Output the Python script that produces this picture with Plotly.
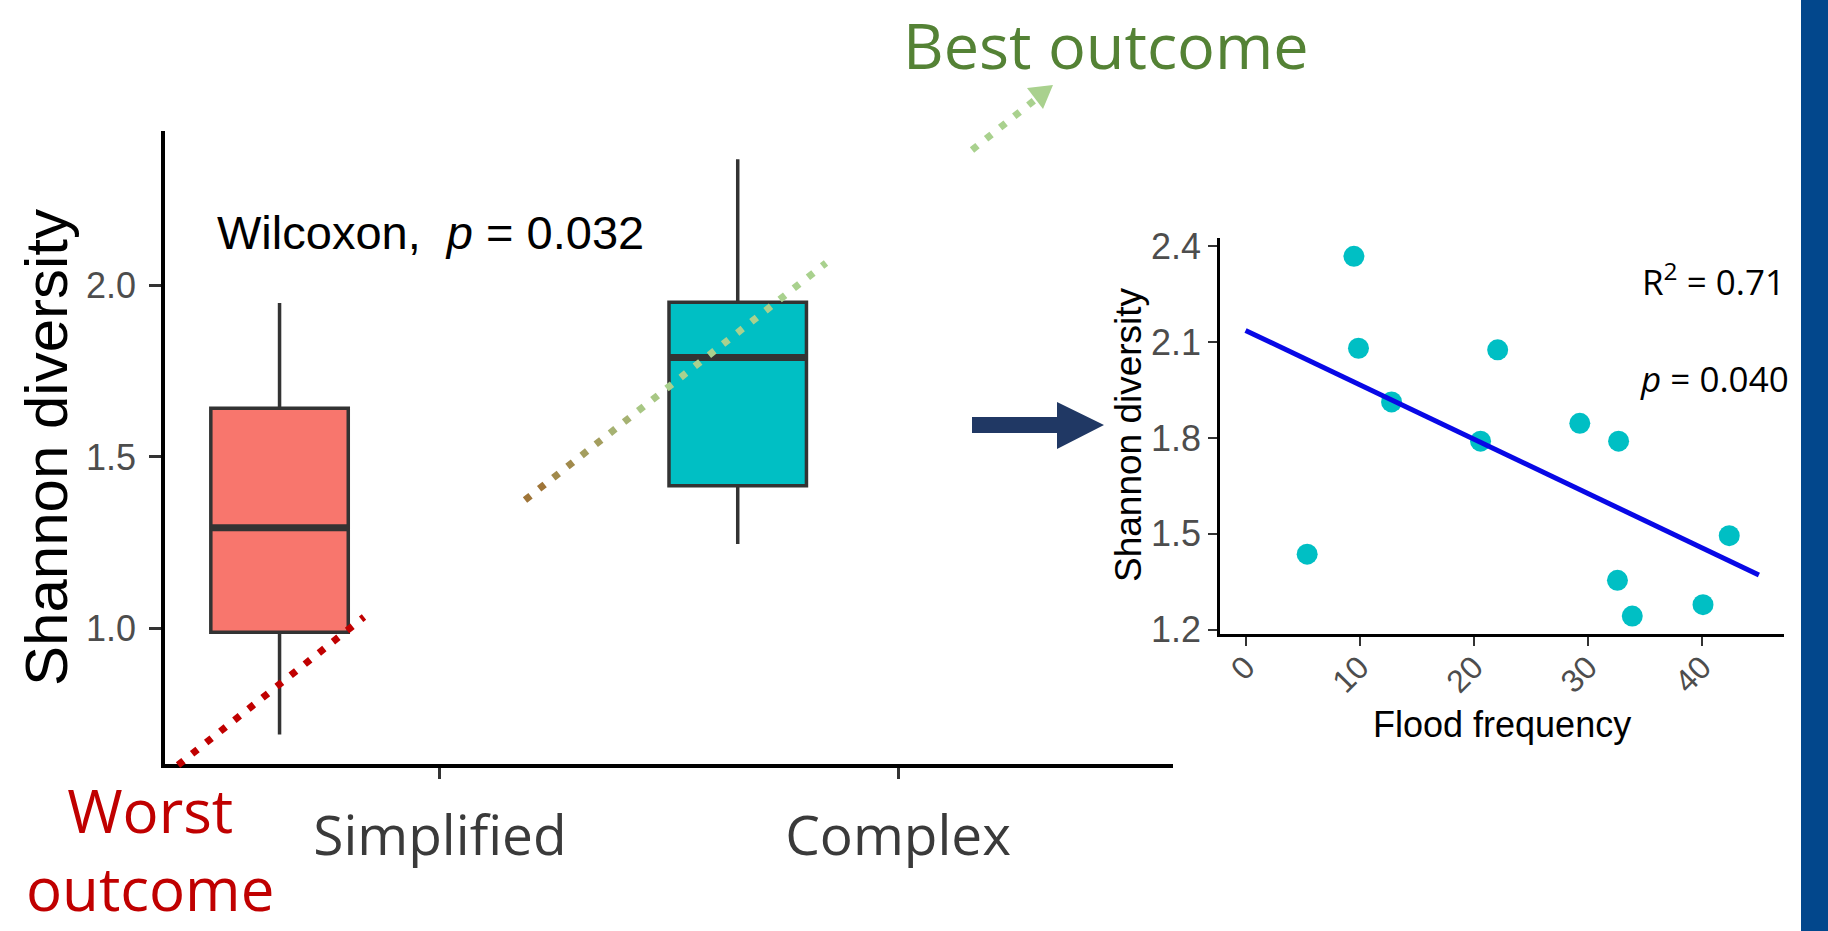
import plotly.graph_objects as go

W, H = 1828, 931

# ---------------- data: left panel (boxplot) ----------------
groups = ["Simplified", "Complex"]
group_pos = [1, 2]
box_offset = -0.35          # boxes sit left of their tick in the reference
box_q1 = [0.990, 1.416]
box_median = [1.294, 1.789]
box_q3 = [1.642, 1.950]
box_lower = [0.693, 1.247]
box_upper = [1.948, 2.366]
box_colors = ["#F8766D", "#00BFC4"]
left_yticks = [1.0, 1.5, 2.0]

# ---------------- data: right panel (scatter + fit) ----------------
flood_freq = [9.5, 9.9, 22.1, 12.8, 20.6, 29.3, 32.7, 5.4, 42.4, 32.6, 33.9, 40.1]
shannon = [2.369, 2.081, 2.076, 1.913, 1.790, 1.846, 1.790, 1.436, 1.494, 1.354, 1.242, 1.278]
fit_x = [0, 45]
fit_y = [2.137, 1.371]
right_yticks = [1.2, 1.5, 1.8, 2.1, 2.4]
right_xticks = [0, 10, 20, 30, 40]

BOX_W = 0.30
SANS = "Liberation Sans, Arial, sans-serif"
OPEN = "Open Sans, Noto Sans, sans-serif"


def px(x):
    return x / W


def py(y):
    return 1 - y / H


fig = go.Figure()

for i in range(len(groups)):
    pos = group_pos[i] + box_offset
    fig.add_trace(go.Box(
        x=[pos], q1=[box_q1[i]], median=[box_median[i]], q3=[box_q3[i]],
        lowerfence=[box_lower[i]], upperfence=[box_upper[i]],
        width=BOX_W, fillcolor=box_colors[i],
        line=dict(color="#333333", width=3.5), boxpoints=False,
        whiskerwidth=0, xaxis="x", yaxis="y", showlegend=False, hoverinfo="skip"))
    # thick median bar
    fig.add_trace(go.Scatter(
        x=[pos - BOX_W / 2, pos + BOX_W / 2], y=[box_median[i], box_median[i]],
        mode="lines", line=dict(color="#333333", width=7),
        xaxis="x", yaxis="y", showlegend=False, hoverinfo="skip"))

fig.add_trace(go.Scatter(
    x=flood_freq, y=shannon, mode="markers",
    marker=dict(color="#00BFC4", size=21),
    xaxis="x2", yaxis="y2", showlegend=False, hoverinfo="skip"))
fig.add_trace(go.Scatter(
    x=fit_x, y=fit_y, mode="lines", line=dict(color="#0808E6", width=5),
    xaxis="x2", yaxis="y2", showlegend=False, hoverinfo="skip"))

common = dict(showgrid=False, zeroline=False, automargin=False)

fig.update_layout(
    width=W, height=H, autosize=False,
    margin=dict(l=0, r=0, t=0, b=0, pad=0, autoexpand=False),
    paper_bgcolor="white", plot_bgcolor="white", showlegend=False,
    xaxis=dict(
        domain=[px(165), px(1173)], range=[0.4, 2.6], anchor="y",
        tickvals=group_pos, ticktext=groups,
        showline=True, linecolor="black", linewidth=3.5,
        ticks="outside", ticklen=11, tickwidth=2.5, tickcolor="#333333",
        tickfont=dict(family=OPEN, size=55, color="#3a3a3a"),
        ticklabelstandoff=10, **common),
    yaxis=dict(
        domain=[py(764), py(131)], range=[0.607, 2.448], anchor="x",
        tickvals=left_yticks, ticktext=[f"{v:.1f}" for v in left_yticks],
        showline=True, linecolor="black", linewidth=3.5,
        ticks="outside", ticklen=12, tickwidth=2.5, tickcolor="#333333",
        tickfont=dict(family=SANS, size=36, color="#4D4D4D"),
        ticklabelstandoff=6,
        title=dict(text="Shannon diversity", font=dict(family=SANS, size=60, color="black"), standoff=0),
        **common),
    xaxis2=dict(
        domain=[px(1220), px(1784)], range=[-2.24, 47.2], anchor="y2",
        tickvals=right_xticks, ticktext=[str(v) for v in right_xticks],
        tickangle=-45,
        showline=True, linecolor="black", linewidth=2.5,
        ticks="outside", ticklen=9, tickwidth=2, tickcolor="#333333",
        tickfont=dict(family=SANS, size=32, color="#4D4D4D"),
        ticklabelstandoff=-10,
        **common),
    yaxis2=dict(
        domain=[py(634), py(237.5)], range=[1.186, 2.428], anchor="x2",
        tickvals=right_yticks, ticktext=[f"{v:.1f}" for v in right_yticks],
        showline=True, linecolor="black", linewidth=2.5,
        ticks="outside", ticklen=9, tickwidth=2, tickcolor="#333333",
        tickfont=dict(family=SANS, size=36, color="#4D4D4D"),
        **common),
)

shapes = []
DOT = "7px,11px"


def seg(x0, y0, x1, y1, color, width=7, dash=DOT):
    shapes.append(dict(type="line", xref="paper", yref="paper",
                       x0=px(x0), y0=py(y0), x1=px(x1), y1=py(y1),
                       line=dict(color=color, width=width, dash=dash), layer="above"))


# red "worst" dotted line
seg(178, 765, 364, 617, "#C00000")

# brown -> green gradient dotted line
def hex2rgb(h):
    h = h.lstrip("#")
    return [int(h[k:k + 2], 16) for k in (0, 2, 4)]

c0, c1 = hex2rgb("#9E6B2F"), hex2rgb("#A9D18E")
slope = (263 - 500) / (826 - 525)
step = 28.3
nseg = 5
for k in range(nseg):
    xa = 525 + k * step
    xb = xa + step
    t = (k + 0.5) / nseg
    col = "rgb({},{},{})".format(*[int(round(c0[j] + (c1[j] - c0[j]) * t)) for j in range(3)])
    seg(xa, 500 + slope * (xa - 525), xb, 500 + slope * (xb - 525), col)
xa = 525 + nseg * step
seg(xa, 500 + slope * (xa - 525), 826, 263, "#A9D18E")

# upper green dotted arrow
seg(972, 150, 1036, 99, "#A9D18E")
shapes.append(dict(type="path", xref="paper", yref="paper",
                   path="M {} {} L {} {} L {} {} Z".format(px(1053), py(85), px(1027), py(88), px(1043), py(109)),
                   fillcolor="#A9D18E", line=dict(width=0), layer="above"))

# navy arrow
arrow_pts = [(972, 417), (1057, 417), (1057, 402), (1104, 425), (1057, 449), (1057, 433), (972, 433)]
path = "M " + " L ".join(f"{px(a)} {py(b)}" for a, b in arrow_pts) + " Z"
shapes.append(dict(type="path", xref="paper", yref="paper", path=path,
                   fillcolor="#203864", line=dict(width=0), layer="above"))

# blue bar on the right edge
shapes.append(dict(type="rect", xref="paper", yref="paper", x0=px(1801), x1=1, y0=0, y1=1,
                   fillcolor="#02478C", line=dict(width=0), layer="above"))

fig.update_layout(shapes=shapes)

annotations = [
    dict(text="Wilcoxon,  <i>p</i> = 0.032", x=px(215), y=py(232), xanchor="left", yanchor="middle",
         font=dict(family=SANS, size=47, color="black")),
    dict(text="Best outcome", x=px(1106), y=1, xanchor="center", yanchor="top",
         font=dict(family=OPEN, size=63, color="#548235")),
    dict(text="Worst<br>outcome", x=px(150), y=0, xanchor="center", yanchor="bottom",
         font=dict(family=OPEN, size=60, color="#C00000")),
    dict(text="R<sup>2</sup> = 0.71", x=px(1640), y=py(279), xanchor="left", yanchor="middle",
         font=dict(family=OPEN, size=35, color="black")),
    dict(text="<i>p</i> = 0.040", x=px(1638), y=py(379), xanchor="left", yanchor="middle",
         font=dict(family=OPEN, size=35, color="black")),
    # right-panel axis titles
    dict(text="Flood frequency", x=px(1502), y=py(724), xanchor="center", yanchor="middle",
         font=dict(family=SANS, size=36, color="black")),
    dict(text="Shannon diversity", x=px(1129), y=py(435), xanchor="center", yanchor="middle",
         textangle=-90, font=dict(family=SANS, size=37, color="black")),
]
for a in annotations:
    a.update(xref="paper", yref="paper", showarrow=False)
fig.update_layout(annotations=annotations)

fig.write_html(
    "out.html",
    config={"responsive": False, "displayModeBar": False},
    post_script="document.body.style.margin='0';document.documentElement.style.overflow='hidden';",
)
